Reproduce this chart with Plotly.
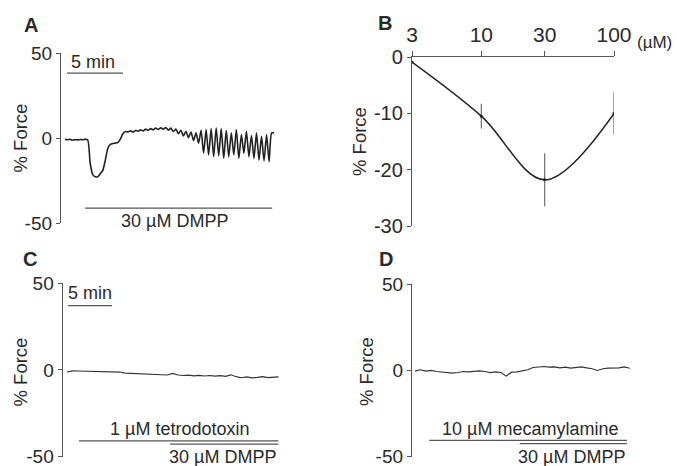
import plotly.graph_objects as go

# ---------------- data ----------------
# Panel A: force trace (% Force), sampled every a_dt minutes
a_dt = 0.225
a_force = [-0.8, -1.0, -0.8, -1.2, -1.0, -1.1, -0.9, -1.0, -0.8, -1.0,
           -15.0, -21.5, -22.8, -22.8, -21.0, -19.0, -13.0, -6.0, -3.8, -3.2,
           -3.0, -2.6, -0.5, 2.6, 3.8, 3.6, 4.2, 3.5, 4.4, 4.0,
           4.8, 4.2, 5.2, 4.6, 5.5, 4.8, 5.8, 5.0, 6.0, 5.2,
           6.2, 4.6, 5.8, 3.8, 5.2, 2.5, 4.6, 1.2, 4.0, 0.2,
           3.5, -1.5, 3.0, -3.0, 4.5, -9.0, 5.0, -10.0, 5.5, -11.0,
           6.0, -10.5, 5.5, -12.0, 4.5, -11.0, 3.0, -10.0, 5.0, -12.0,
           2.0, -9.0, 4.0, -11.0, 1.5, -12.0, 3.0, -13.0, 1.0, -13.5,
           2.0, -14.0, 3.0, 3.0]
a_dmpp = [1.8, 18.5]          # DMPP application (min)
a_scale = [0.18, 5.18]        # 5 min scale bar
trace_ticks = [-50, 0, 50]
trace_ticktext = ["-50", "0", "50"]

# Panel B: concentration-response
b_conc = [3, 10, 30, 100]
b_force = [-0.9, -10.5, -21.8, -10.0]
b_err = [0.0, 2.2, 4.7, 3.8]
b_ticks = ["3", "10", "30", "100"]
b_yticks = [0, -10, -20, -30]
b_yticktext = ["0", "-10", "-20", "-30"]

# Panel C: tetrodotoxin + DMPP
c_dt = 0.6
c_force = [-1.2, -0.5, -0.6, -0.7, -0.6, -0.8, -0.6, -0.9, -1.0, -1.3,
           -1.2, -1.8, -1.9, -2.1, -2.0, -2.4, -2.6, -2.5, -2.8, -2.9,
           -2.0, -2.9, -3.2, -3.0, -3.4, -3.1, -3.5, -3.2, -3.6, -3.3,
           -3.7, -2.8, -3.9, -4.5, -4.0, -4.6, -4.3, -3.8, -4.4, -4.1, -4.0]
c_ttx = [1.36, 24.0]
c_dmpp = [11.7, 24.0]
c_scale = [0.11, 5.11]

# Panel D: mecamylamine + DMPP
d_dt = 0.61
d_force = [-0.4, 0.4, -0.4, 0.0, -0.6, -0.8, -1.2, -1.5, -1.2, -0.6,
           -0.8, -0.4, -0.2, -0.6, -1.3, -0.8, -1.2, -3.3, -1.0, -0.8,
           -0.4, 0.4, 1.7, 1.9, 2.3, 1.9, 2.1, 1.5, 1.9, 1.3,
           1.7, 2.1, 1.5, 1.0, 0.0, 1.0, 1.3, 1.2, 1.5, 2.1, 1.3]
d_mec = [1.63, 24.1]
d_dmpp = [11.9, 24.1]

# ---------------- figure ----------------
W, H = 677, 466
FONT = "Liberation Sans, Arial, sans-serif"
TXT = "#2a2a2a"
AX = "#555555"
TRACE = "#222222"


def px(x):
    return x / W


def py(y):
    return 1 - y / H


a_t = [i * a_dt for i in range(len(a_force))]
c_t = [i * c_dt for i in range(len(c_force))]
d_t = [i * d_dt for i in range(len(d_force))]

fig = go.Figure()
fig.add_trace(go.Scatter(x=a_t, y=a_force, mode="lines", xaxis="x", yaxis="y",
                         line=dict(color=TRACE, width=1.6, shape="spline", smoothing=0.6),
                         showlegend=False, hoverinfo="skip"))
fig.add_trace(go.Scatter(x=b_conc, y=b_force, mode="lines+markers", xaxis="x2", yaxis="y2",
                         line=dict(color=TRACE, width=1.5, shape="spline"),
                         marker=dict(color=TRACE, size=3),
                         error_y=dict(type="data", array=b_err, visible=True,
                                      color="#777777", thickness=1.3, width=0),
                         showlegend=False, hoverinfo="skip"))
fig.add_trace(go.Scatter(x=c_t, y=c_force, mode="lines", xaxis="x3", yaxis="y3",
                         line=dict(color="#333333", width=1.2),
                         showlegend=False, hoverinfo="skip"))
fig.add_trace(go.Scatter(x=d_t, y=d_force, mode="lines", xaxis="x4", yaxis="y4",
                         line=dict(color="#333333", width=1.2),
                         showlegend=False, hoverinfo="skip"))

yax_common = dict(showgrid=False, zeroline=False, showline=True, linecolor=AX, linewidth=1.3,
                  ticks="outside", ticklen=4, tickcolor=AX, tickwidth=1.3, automargin=False,
                  ticklabeloverflow="allow",
                  tickfont=dict(family=FONT, size=19, color=TXT), fixedrange=True)
hidden_x = dict(visible=False, showgrid=False, zeroline=False, fixedrange=True, automargin=False)

fig.update_layout(
    template="none",
    width=W, height=H, margin=dict(l=0, r=0, t=0, b=0, pad=0), autosize=False,
    paper_bgcolor="white", plot_bgcolor="rgba(0,0,0,0)",
    font=dict(family=FONT, color=TXT),
    xaxis=dict(hidden_x, domain=[px(61), px(280)], range=[-0.36, 19.2], anchor="y"),
    yaxis=dict(yax_common, domain=[py(223), py(53)], range=[-50, 50],
               tickvals=trace_ticks, ticktext=trace_ticktext, anchor="x"),
    xaxis2=dict(type="log", domain=[px(412), px(614)], range=[0.47712, 2.0],
                side="top", anchor="y2", tickvals=b_conc, ticktext=b_ticks, automargin=False,
                ticklabeloverflow="allow",
                showgrid=False, zeroline=False, showline=True, linecolor=AX, linewidth=1.3,
                ticks="outside", ticklen=5, tickcolor=AX, tickwidth=1.3,
                tickfont=dict(family=FONT, size=21, color=TXT), fixedrange=True),
    yaxis2=dict(yax_common, domain=[py(226), py(57)], range=[-30, 0],
                tickvals=b_yticks, ticktext=b_yticktext, anchor="x2",
                tickfont=dict(family=FONT, size=20, color=TXT)),
    xaxis3=dict(hidden_x, domain=[px(62.7), px(282)], range=[-0.49, 24.4], anchor="y3"),
    yaxis3=dict(yax_common, domain=[py(456.6), py(283.3)], range=[-50, 50],
                tickvals=trace_ticks, ticktext=trace_ticktext, anchor="x3"),
    xaxis4=dict(hidden_x, domain=[px(412), px(635)], range=[-0.34, 25.0], anchor="y4"),
    yaxis4=dict(yax_common, domain=[py(456.6), py(284.3)], range=[-50, 50],
                tickvals=trace_ticks, ticktext=trace_ticktext, anchor="x4"),
)

bar = dict(type="line", line=dict(color=AX, width=1.3))
shapes = [
    dict(bar, xref="x", yref="y", x0=a_scale[0], x1=a_scale[1], y0=38.2, y1=38.2),
    dict(bar, xref="x", yref="y", x0=a_dmpp[0], x1=a_dmpp[1], y0=-41.2, y1=-41.2),
    dict(bar, xref="x3", yref="y3", x0=c_scale[0], x1=c_scale[1], y0=37.1, y1=37.1),
    dict(bar, xref="x3", yref="y3", x0=c_ttx[0], x1=c_ttx[1], y0=-40.9, y1=-40.9),
    dict(bar, xref="x3", yref="y3", x0=c_dmpp[0], x1=c_dmpp[1], y0=-42.8, y1=-42.8),
    dict(bar, xref="x4", yref="y4", x0=d_mec[0], x1=d_mec[1], y0=-40.6, y1=-40.6),
    dict(bar, xref="x4", yref="y4", x0=d_dmpp[0], x1=d_dmpp[1], y0=-42.5, y1=-42.5),
]
fig.update_layout(shapes=shapes)


def txt(s, x, y, size=18, bold=False, angle=0):
    return dict(text=f"<b>{s}</b>" if bold else s, x=px(x), y=py(y), xref="paper", yref="paper",
                xanchor="center", yanchor="middle", showarrow=False, textangle=angle,
                font=dict(family=FONT, size=size, color=TXT))


annotations = [
    txt("A", 30.5, 25, 20, True), txt("B", 384.5, 23, 20, True),
    txt("C", 29.5, 258.5, 20, True), txt("D", 385.5, 258.5, 20, True),
    txt("5 min", 92.5, 62.5), txt("30 µM DMPP", 174, 221),
    txt("% Force", 19.5, 138, 18.5, angle=-90),
    txt("(µM)", 654.7, 43, 17), txt("% Force", 360, 142, 18.5, angle=-90),
    txt("5 min", 90, 293), txt("1 µM tetrodotoxin", 179, 429), txt("30 µM DMPP", 222.5, 456.5),
    txt("% Force", 19.5, 372, 18.5, angle=-90),
    txt("10 µM mecamylamine", 530, 429), txt("30 µM DMPP", 571, 456.5),
    txt("% Force", 366, 371, 18.5, angle=-90),
]
fig.update_layout(annotations=annotations)

fig.write_html("out.html", config={"displayModeBar": False},
               post_script="document.body.style.margin='0px';document.body.style.overflow='hidden';")
